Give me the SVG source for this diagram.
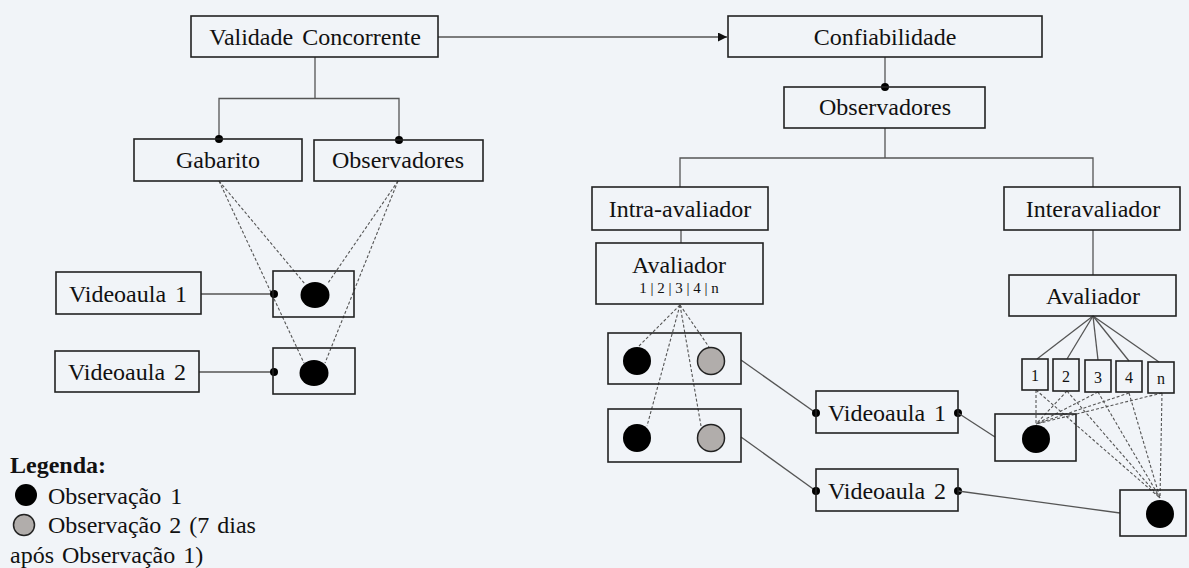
<svg xmlns="http://www.w3.org/2000/svg" width="1189" height="568" viewBox="0 0 1189 568">
<defs>
<style>
.bx{fill:none;stroke:#222;stroke-width:1.6}
text{font-family:'Liberation Serif','Times New Roman',serif;fill:#111}
.t{font-size:24px;text-anchor:middle}
.ts{font-size:16px;text-anchor:middle}
.ln{fill:none;stroke:#555;stroke-width:1.3}
.dl{fill:none;stroke:#555;stroke-width:1.1;stroke-dasharray:3 2}
.dot{fill:#000}
.o1{fill:#000}
.o2{fill:#b1adab;stroke:#222;stroke-width:1.5}
.lg{font-size:24px}
</style>
<marker id="arr" viewBox="0 0 10 10" refX="10" refY="5" markerWidth="9" markerHeight="9" markerUnits="userSpaceOnUse" orient="auto">
<path d="M0,0 L10,5 L0,10 z" fill="#111"/>
</marker>
</defs>
<rect width="1189" height="568" fill="#f1f4f8"/>

<g id="connectors">
<line class="ln" x1="438" y1="37" x2="727" y2="37" marker-end="url(#arr)"/>
<path class="ln" d="M315,57 V98.5 M219,139 V98.5 H399 V140"/>
<circle class="dot" cx="219" cy="139" r="4"/>
<circle class="dot" cx="399" cy="140" r="4"/>
<line class="dl" x1="219" y1="181" x2="305" y2="284"/>
<line class="dl" x1="219" y1="181" x2="304" y2="363"/>
<line class="dl" x1="398" y1="181" x2="328" y2="283"/>
<line class="dl" x1="398" y1="181" x2="325" y2="363"/>
<line class="ln" x1="201" y1="294" x2="274" y2="294"/>
<line class="ln" x1="199" y1="372" x2="274" y2="372"/>
<circle class="dot" cx="274" cy="294" r="4"/>
<circle class="dot" cx="274" cy="372" r="4"/>

<line class="ln" x1="885" y1="57" x2="885" y2="87"/>
<circle class="dot" cx="885" cy="87" r="4"/>
<path class="ln" d="M885,128 V158 M680,187 V158 H1093 V187"/>
<line class="ln" x1="681" y1="230" x2="681" y2="243"/>
<line class="ln" x1="1093" y1="230" x2="1093" y2="275"/>

<line class="dl" x1="680" y1="305" x2="639" y2="346"/>
<line class="dl" x1="680" y1="305" x2="709" y2="347"/>
<line class="dl" x1="680" y1="305" x2="647" y2="426"/>
<line class="dl" x1="680" y1="305" x2="701" y2="426"/>

<line class="ln" x1="741" y1="360" x2="816" y2="413"/>
<line class="ln" x1="741" y1="437" x2="816" y2="491"/>
<circle class="dot" cx="816" cy="413" r="4"/>
<circle class="dot" cx="816" cy="491" r="4"/>
<circle class="dot" cx="958" cy="413" r="4"/>
<circle class="dot" cx="958" cy="491" r="4"/>
<line class="ln" x1="958" y1="413" x2="995" y2="437"/>
<line class="ln" x1="958" y1="491" x2="1120" y2="513"/>

<line class="ln" x1="1093" y1="316" x2="1037" y2="359"/>
<line class="ln" x1="1093" y1="316" x2="1067" y2="359"/>
<line class="ln" x1="1093" y1="316" x2="1098" y2="360"/>
<line class="ln" x1="1093" y1="316" x2="1129" y2="361"/>
<line class="ln" x1="1093" y1="316" x2="1159" y2="362"/>

<line class="dl" x1="1036" y1="390" x2="1036" y2="424"/>
<line class="dl" x1="1067" y1="391" x2="1036" y2="424"/>
<line class="dl" x1="1098" y1="392" x2="1036" y2="424"/>
<line class="dl" x1="1129" y1="393" x2="1036" y2="424"/>
<line class="dl" x1="1162" y1="393" x2="1036" y2="424"/>
<line class="dl" x1="1036" y1="390" x2="1160" y2="498"/>
<line class="dl" x1="1067" y1="391" x2="1160" y2="498"/>
<line class="dl" x1="1098" y1="392" x2="1160" y2="498"/>
<line class="dl" x1="1129" y1="393" x2="1160" y2="498"/>
<line class="dl" x1="1162" y1="393" x2="1160" y2="498"/>
</g>

<g id="validade"><rect class="bx" x="191" y="16" width="247" height="41"/><text class="t" x="315" y="45" word-spacing="3">Validade Concorrente</text></g>
<g id="confiabilidade"><rect class="bx" x="728" y="16" width="314" height="41"/><text class="t" x="885" y="45">Confiabilidade</text></g>
<g id="gabarito"><rect class="bx" x="134" y="139" width="168" height="42"/><text class="t" x="218" y="168">Gabarito</text></g>
<g id="observadores-l"><rect class="bx" x="314" y="140" width="169" height="41"/><text class="t" x="398" y="168">Observadores</text></g>
<g id="videoaula1-l"><rect class="bx" x="56" y="272" width="145" height="42"/><text class="t" x="128" y="302" word-spacing="3">Videoaula 1</text></g>
<g id="videoaula2-l"><rect class="bx" x="55" y="351" width="144" height="41"/><text class="t" x="127" y="380" word-spacing="3">Videoaula 2</text></g>
<g id="obs-l1"><rect class="bx" x="273" y="271" width="81" height="46"/><ellipse class="o1" cx="315" cy="295" rx="14.5" ry="13"/></g>
<g id="obs-l2"><rect class="bx" x="273" y="348" width="82" height="46"/><ellipse class="o1" cx="314" cy="373" rx="14.5" ry="13"/></g>

<g id="observadores-r"><rect class="bx" x="784" y="87" width="201" height="41"/><text class="t" x="885" y="115">Observadores</text></g>
<g id="intra"><rect class="bx" x="592" y="187" width="176" height="43"/><text class="t" x="680" y="217">Intra-avaliador</text></g>
<g id="inter"><rect class="bx" x="1004" y="187" width="176" height="43"/><text class="t" x="1093" y="217">Interavaliador</text></g>
<g id="avaliador-l"><rect class="bx" x="596" y="243" width="167" height="61"/><text class="t" x="679" y="273">Avaliador</text><text class="t" x="679" y="293" style="font-size:15px">1 | 2 | 3 | 4 | n</text></g>
<g id="avaliador-r"><rect class="bx" x="1009" y="275" width="167" height="41"/><text class="t" x="1093" y="304">Avaliador</text></g>
<g id="obs-m1"><rect class="bx" x="608" y="333" width="133" height="51"/><circle class="o1" cx="637" cy="361" r="14"/><circle class="o2" cx="711" cy="361" r="13.5"/></g>
<g id="obs-m2"><rect class="bx" x="608" y="409" width="133" height="53"/><circle class="o1" cx="637" cy="438" r="14"/><circle class="o2" cx="711" cy="438" r="13.5"/></g>
<g id="videoaula1-m"><rect class="bx" x="816" y="391" width="142" height="42"/><text class="t" x="887" y="421" word-spacing="3">Videoaula 1</text></g>
<g id="videoaula2-m"><rect class="bx" x="816" y="469" width="142" height="42"/><text class="t" x="887" y="499" word-spacing="3">Videoaula 2</text></g>
<g id="r1"><rect class="bx" x="1022" y="359" width="26" height="31"/><text class="ts" x="1035" y="381">1</text></g>
<g id="r2"><rect class="bx" x="1053" y="359" width="26" height="32"/><text class="ts" x="1066" y="382">2</text></g>
<g id="r3"><rect class="bx" x="1085" y="360" width="26" height="32"/><text class="ts" x="1098" y="383">3</text></g>
<g id="r4"><rect class="bx" x="1116" y="361" width="26" height="31"/><text class="ts" x="1129" y="383">4</text></g>
<g id="rn"><rect class="bx" x="1148" y="362" width="26" height="31"/><text class="ts" x="1161" y="384">n</text></g>
<g id="obs-r1"><rect class="bx" x="995" y="414" width="81" height="47"/><circle class="o1" cx="1036" cy="439" r="14"/></g>
<g id="obs-r2"><rect class="bx" x="1120" y="490" width="66" height="46"/><circle class="o1" cx="1160" cy="514" r="14"/></g>

<g id="legenda">
<text class="lg" x="10" y="473" font-weight="bold">Legenda:</text>
<circle class="o1" cx="26" cy="495" r="11"/>
<text class="lg" x="48" y="504" word-spacing="3">Observação 1</text>
<circle class="o2" cx="24" cy="525" r="10.5"/>
<text class="lg" x="48" y="533" word-spacing="2">Observação 2 (7 dias</text>
<text class="lg" x="10" y="563" word-spacing="2">após Observação 1)</text>
</g>
</svg>
